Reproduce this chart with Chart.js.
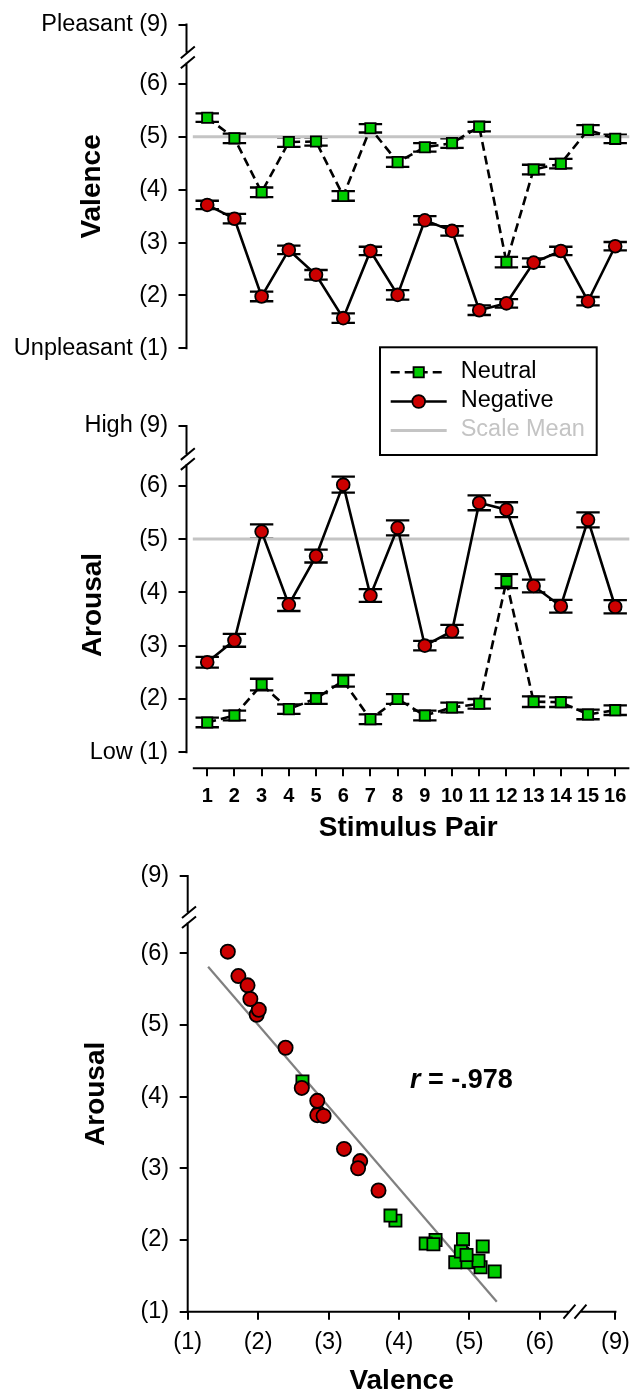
<!DOCTYPE html>
<html>
<head>
<meta charset="utf-8">
<title>Valence and arousal ratings by stimulus pair</title>
<script src="https://cdn.jsdelivr.net/npm/chart.js@4.4.1/dist/chart.umd.min.js"></script>
<style>
  html, body { margin: 0; padding: 0; background: #fff; width: 639px; height: 1393px; overflow: hidden; }
  canvas { position: absolute; left: 0; }
</style>
</head>
<body>
<canvas id="valenceChart" width="639" height="380" style="top:0px"></canvas>
<canvas id="arousalChart" width="639" height="520" style="top:340px"></canvas>
<canvas id="scatterChart" width="639" height="570" style="top:840px"></canvas>
<script>
// ---------------- data ----------------
const PAIRS = [1, 2, 3, 4, 5, 6, 7, 8, 9, 10, 11, 12, 13, 14, 15, 16];

// Mean valence ratings (1 = unpleasant, 9 = pleasant) and their SEM
const VALENCE_NEUTRAL      = [5.36, 4.97, 3.95, 4.90, 4.91, 3.88, 5.16, 4.52, 4.80, 4.88, 5.19, 2.63, 4.38, 4.49, 5.13, 4.96];
const VALENCE_NEUTRAL_SEM  = [0.08, 0.09, 0.09, 0.09, 0.08, 0.09, 0.08, 0.09, 0.08, 0.09, 0.09, 0.10, 0.09, 0.09, 0.09, 0.08];
const VALENCE_NEGATIVE     = [3.71, 3.45, 1.98, 2.86, 2.39, 1.57, 2.84, 2.01, 3.42, 3.22, 1.72, 1.85, 2.62, 2.84, 1.89, 2.93];
const VALENCE_NEGATIVE_SEM = [0.08, 0.09, 0.09, 0.08, 0.09, 0.09, 0.08, 0.09, 0.08, 0.09, 0.09, 0.08, 0.08, 0.08, 0.08, 0.08];

// Mean arousal ratings (1 = low, 9 = high) and their SEM
const AROUSAL_NEUTRAL      = [1.56, 1.69, 2.27, 1.81, 2.01, 2.34, 1.62, 2.00, 1.69, 1.84, 1.91, 4.21, 1.95, 1.94, 1.71, 1.79];
const AROUSAL_NEUTRAL_SEM  = [0.09, 0.09, 0.11, 0.09, 0.10, 0.11, 0.09, 0.09, 0.09, 0.09, 0.09, 0.13, 0.10, 0.09, 0.09, 0.09];
const AROUSAL_NEGATIVE     = [2.69, 3.10, 5.14, 3.77, 4.68, 6.02, 3.94, 5.21, 3.00, 3.27, 5.68, 5.55, 4.12, 3.74, 5.36, 3.73];
const AROUSAL_NEGATIVE_SEM = [0.10, 0.12, 0.135, 0.12, 0.12, 0.15, 0.12, 0.14, 0.09, 0.12, 0.14, 0.14, 0.12, 0.12, 0.14, 0.125];

const SCALE_MEAN = 5;

// Least-squares fit of arousal on valence, drawn between its two end points
const FIT_VALENCE = [1.29, 5.39];
const FIT_AROUSAL = [5.81, 1.14];
const CORRELATION = '-.978';

// Tick labels of the broken rating axes (the last one sits above the break)
const VALENCE_TICK_LABELS = ['Unpleasant (1)', '(2)', '(3)', '(4)', '(5)', '(6)', 'Pleasant (9)'];
const AROUSAL_TICK_LABELS = ['Low (1)', '(2)', '(3)', '(4)', '(5)', '(6)', 'High (9)'];
const SCATTER_TICK_LABELS = ['(1)', '(2)', '(3)', '(4)', '(5)', '(6)', '(9)'];
const LEGEND_LABELS = ['Neutral', 'Negative', 'Scale Mean'];

// ---------------- axis geometry ----------------
const RATING_TICKS = [1, 2, 3, 4, 5, 6];
const AXIS_BREAK = 6.5;            // the scale is cut between 6 and 9
const LINE_AXIS_TOP = 7.12;        // where "(9)" sits on the line panels
const SCATTER_AXIS_TOP = 7.075;    // where "(9)" sits on the scatter panel
const PAIR_MIN = 0.238, PAIR_MAX = 16.54;      // horizontal extent of the pair panels
const PAIR_AXIS_FROM = 0.47, PAIR_AXIS_TO = 16.52;

// ---------------- styles ----------------
const FONT_FAMILY = "'Liberation Sans', Arial, Helvetica, sans-serif";
const BLACK = '#000000';
const GREEN = '#00cc00';
const RED = '#cc0000';
const MEAN_GRAY = '#c4c4c4';
const FIT_GRAY = '#808080';
const TICK_FONT = { family: FONT_FAMILY, size: 23.5 };
const TITLE_FONT = { family: FONT_FAMILY, size: 28, weight: 'bold' };
const PAIR_FONT = { family: FONT_FAMILY, size: 20, weight: 'bold' };
const CAP_HALF = 11.7;
const DATA_LINE_WIDTH = 2.6;
const MARKER_BORDER = 1.8;

Chart.defaults.font.family = FONT_FAMILY;
Chart.defaults.color = BLACK;

// ---------------- plugins ----------------
// Vertical ±SEM whiskers with caps, drawn underneath the markers
const errorBars = {
  id: 'errorBars',
  beforeDatasetsDraw(chart) {
    const { ctx } = chart;
    const xs = chart.scales.x, ys = chart.scales.y;
    ctx.save();
    ctx.strokeStyle = BLACK;
    ctx.lineWidth = 2.3;
    chart.data.datasets.forEach(ds => {
      if (!ds.errors) return;
      ds.data.forEach((p, i) => {
        const px = xs.getPixelForValue(p.x);
        const top = ys.getPixelForValue(p.y + ds.errors[i]);
        const bot = ys.getPixelForValue(p.y - ds.errors[i]);
        ctx.beginPath();
        ctx.moveTo(px, top); ctx.lineTo(px, bot);
        ctx.moveTo(px - CAP_HALF, top); ctx.lineTo(px + CAP_HALF, top);
        ctx.moveTo(px - CAP_HALF, bot); ctx.lineTo(px + CAP_HALF, bot);
        ctx.stroke();
      });
    });
    ctx.restore();
  }
};

// Axis lines with a "//" break mark
const brokenAxes = {
  id: 'brokenAxes',
  afterDraw(chart, args, opts) {
    const { ctx, chartArea } = chart;
    const GAP = 5;
    ctx.save();
    ctx.strokeStyle = BLACK;
    ctx.lineWidth = 2;
    ctx.lineCap = 'butt';
    if (opts.y) {
      const s = chart.scales.y;
      const ax = chartArea.left;
      const y0 = s.getPixelForValue(opts.y.from);
      const y1 = s.getPixelForValue(opts.y.to);
      const yb = s.getPixelForValue(opts.y.breakAt);
      ctx.beginPath();
      ctx.moveTo(ax, y0 + 1); ctx.lineTo(ax, yb + GAP);
      ctx.moveTo(ax, yb - GAP); ctx.lineTo(ax, y1 - 1);
      [-5, 5].forEach(d => {
        ctx.moveTo(ax + 1.3 - 7, yb + d + 5.8);
        ctx.lineTo(ax + 1.3 + 7, yb + d - 5.8);
      });
      ctx.stroke();
    }
    if (opts.x) {
      const s = chart.scales.x;
      const ay = chartArea.bottom;
      const x0 = s.getPixelForValue(opts.x.from);
      const x1 = s.getPixelForValue(opts.x.to);
      ctx.beginPath();
      if (opts.x.breakAt != null) {
        const xb = s.getPixelForValue(opts.x.breakAt);
        ctx.moveTo(x0 - 1, ay); ctx.lineTo(xb - GAP, ay);
        ctx.moveTo(xb + GAP, ay); ctx.lineTo(x1 + 1, ay);
        [-5.5, 5.5].forEach(d => {
          ctx.moveTo(xb + d - 6, ay + 7);
          ctx.lineTo(xb + d + 6, ay - 7);
        });
      } else {
        ctx.moveTo(x0, ay); ctx.lineTo(x1, ay);
      }
      ctx.stroke();
    }
    ctx.restore();
  }
};

// Free-standing text made of differently styled runs
const textRuns = {
  id: 'textRuns',
  afterDraw(chart, args, opts) {
    const { ctx } = chart;
    (opts.items || []).forEach(item => {
      ctx.save();
      ctx.translate(item.x, item.y);
      if (item.rotate) ctx.rotate(item.rotate);
      ctx.fillStyle = item.color || BLACK;
      ctx.textBaseline = item.baseline || 'middle';
      ctx.textAlign = 'left';
      let total = 0;
      item.runs.forEach(r => { ctx.font = r.font; total += ctx.measureText(r.text).width; });
      let x = item.align === 'left' ? 0 : -total / 2;
      item.runs.forEach(r => {
        ctx.font = r.font;
        ctx.fillText(r.text, x, 0);
        x += ctx.measureText(r.text).width;
      });
      ctx.restore();
    });
  }
};

// Framed legend built from the dataset styles
const framedLegend = {
  id: 'framedLegend',
  afterDraw(chart, args, opts) {
    const { ctx } = chart;
    const box = opts.box;
    ctx.save();
    ctx.strokeStyle = BLACK;
    ctx.lineWidth = 2;
    ctx.strokeRect(box.left, box.top, box.width, box.height);
    opts.entries.forEach((entry, i) => {
      const ds = chart.data.datasets[entry.dataset];
      const y = opts.rows[i];
      ctx.save();
      ctx.strokeStyle = ds.borderColor;
      ctx.lineWidth = ds.borderWidth;
      ctx.setLineDash(ds.borderDash || []);
      ctx.beginPath();
      ctx.moveTo(opts.lineFrom, y);
      ctx.lineTo(opts.lineTo, y);
      ctx.stroke();
      ctx.restore();
      if (ds.pointRadius > 0) {
        ctx.save();
        ctx.fillStyle = ds.pointBackgroundColor;
        ctx.strokeStyle = ds.pointBorderColor;
        ctx.lineWidth = ds.pointBorderWidth;
        Chart.helpers.drawPoint(ctx, {
          pointStyle: ds.pointStyle, radius: ds.pointRadius,
          borderWidth: ds.pointBorderWidth, rotation: 0
        }, (opts.lineFrom + opts.lineTo) / 2, y);
        ctx.restore();
      }
      ctx.fillStyle = entry.color || BLACK;
      ctx.font = `${TICK_FONT.size}px ${FONT_FAMILY}`;
      ctx.textBaseline = 'middle';
      ctx.textAlign = 'left';
      ctx.fillText(entry.label, opts.textX, y - 1);
    });
    ctx.restore();
  }
};

// ---------------- helpers ----------------
const pairPoints = values => PAIRS.map((p, i) => ({ x: p, y: values[i] }));
const ratingPoints = (xv, yv) => xv.map((v, i) => ({ x: v, y: yv[i] }));

const tickGrid = { display: true, drawOnChartArea: false, drawTicks: true, tickLength: 8, color: BLACK, lineWidth: 2 };

function ratingAxis({ min, max, top, labels, width, title, titlePad }) {
  return {
    type: 'linear',
    min, max,
    afterBuildTicks: s => { s.ticks = RATING_TICKS.concat([top]).map(v => ({ value: v })); },
    afterFit: s => { s.width = width; },
    ticks: { autoSkip: false, padding: 10.5, font: TICK_FONT, color: BLACK, callback: (v, i) => labels[i] },
    grid: tickGrid,
    border: { display: false },
    title: title
      ? { display: true, text: title, font: TITLE_FONT, color: BLACK, padding: { top: titlePad, bottom: 0 } }
      : { display: false }
  };
}

function seriesDatasets(neutral, neutralSem, negative, negativeSem) {
  return [
    {
      label: LEGEND_LABELS[0], data: pairPoints(neutral), errors: neutralSem,
      borderColor: BLACK, borderWidth: DATA_LINE_WIDTH, borderDash: [9, 5], tension: 0,
      pointStyle: 'rect', pointRadius: 7.3, pointBackgroundColor: GREEN,
      pointBorderColor: BLACK, pointBorderWidth: MARKER_BORDER, order: 2
    },
    {
      label: LEGEND_LABELS[1], data: pairPoints(negative), errors: negativeSem,
      borderColor: BLACK, borderWidth: DATA_LINE_WIDTH, tension: 0,
      pointStyle: 'circle', pointRadius: 6.4, pointBackgroundColor: RED,
      pointBorderColor: BLACK, pointBorderWidth: MARKER_BORDER, order: 1
    },
    {
      label: LEGEND_LABELS[2],
      data: [{ x: PAIR_AXIS_FROM, y: SCALE_MEAN }, { x: PAIR_AXIS_TO, y: SCALE_MEAN }],
      borderColor: MEAN_GRAY, borderWidth: 3, pointRadius: 0, order: 10
    }
  ];
}

const commonOptions = {
  responsive: false,
  animation: false,
  devicePixelRatio: 1,
  events: []
};

// ---------------- valence by pair ----------------
new Chart(document.getElementById('valenceChart'), {
  type: 'line',
  data: { datasets: seriesDatasets(VALENCE_NEUTRAL, VALENCE_NEUTRAL_SEM, VALENCE_NEGATIVE, VALENCE_NEGATIVE_SEM) },
  options: {
    ...commonOptions,
    layout: { padding: { top: 21.7, right: 7.5, bottom: 31.7, left: 0 } },
    scales: {
      x: { type: 'linear', min: PAIR_MIN, max: PAIR_MAX, display: false },
      y: ratingAxis({ min: 1, max: LINE_AXIS_TOP, top: LINE_AXIS_TOP, labels: VALENCE_TICK_LABELS,
                      width: 186.5, title: 'Valence', titlePad: 75.2 })
    },
    plugins: {
      legend: { display: false },
      tooltip: { enabled: false },
      brokenAxes: { y: { from: 1, to: LINE_AXIS_TOP, breakAt: AXIS_BREAK } }
    }
  },
  plugins: [errorBars, brokenAxes]
});

// ---------------- arousal by pair ----------------
new Chart(document.getElementById('arousalChart'), {
  type: 'line',
  data: { datasets: seriesDatasets(AROUSAL_NEUTRAL, AROUSAL_NEUTRAL_SEM, AROUSAL_NEGATIVE, AROUSAL_NEGATIVE_SEM) },
  options: {
    ...commonOptions,
    layout: { padding: { top: 86, right: 7.5, bottom: 0, left: 0 } },
    scales: {
      x: {
        type: 'linear', min: PAIR_MIN, max: PAIR_MAX,
        afterBuildTicks: s => { s.ticks = PAIRS.map(v => ({ value: v })); },
        afterFit: s => { s.height = 91.7; },
        ticks: { autoSkip: false, maxRotation: 0, padding: 7.7, font: PAIR_FONT, color: BLACK,
                 callback: v => String(v) },
        grid: tickGrid,
        border: { display: false },
        title: { display: true, text: 'Stimulus Pair', font: TITLE_FONT, color: BLACK,
                 padding: { top: 0, bottom: 14.9 } }
      },
      y: ratingAxis({ min: 0.70, max: LINE_AXIS_TOP, top: LINE_AXIS_TOP, labels: AROUSAL_TICK_LABELS,
                      width: 186.5, title: null })
    },
    plugins: {
      legend: { display: false },
      tooltip: { enabled: false },
      brokenAxes: {
        y: { from: 1, to: LINE_AXIS_TOP, breakAt: AXIS_BREAK },
        x: { from: PAIR_AXIS_FROM, to: PAIR_AXIS_TO }
      },
      textRuns: {
        items: [{ x: 93.6, y: 265, rotate: -Math.PI / 2,
                  runs: [{ text: 'Arousal', font: `bold ${TITLE_FONT.size}px ${FONT_FAMILY}` }] }]
      },
      framedLegend: {
        box: { left: 380, top: 7.3, width: 216.7, height: 107.7 },
        rows: [32.3, 61.5, 90.5],
        lineFrom: 390.7, lineTo: 446.7, textX: 460.7,
        entries: [
          { dataset: 0, label: LEGEND_LABELS[0] },
          { dataset: 1, label: LEGEND_LABELS[1] },
          { dataset: 2, label: LEGEND_LABELS[2], color: MEAN_GRAY }
        ]
      }
    }
  },
  plugins: [errorBars, brokenAxes, textRuns, framedLegend]
});

// ---------------- arousal vs valence ----------------
new Chart(document.getElementById('scatterChart'), {
  type: 'scatter',
  data: {
    datasets: [
      {
        label: 'Fit', data: ratingPoints(FIT_VALENCE, FIT_AROUSAL), showLine: true,
        borderColor: FIT_GRAY, borderWidth: 2.2, pointRadius: 0, order: 3
      },
      {
        label: LEGEND_LABELS[0], data: ratingPoints(VALENCE_NEUTRAL, AROUSAL_NEUTRAL),
        pointStyle: 'rect', pointRadius: 8.6, pointBackgroundColor: GREEN,
        pointBorderColor: BLACK, pointBorderWidth: MARKER_BORDER, order: 2
      },
      {
        label: LEGEND_LABELS[1], data: ratingPoints(VALENCE_NEGATIVE, AROUSAL_NEGATIVE),
        pointStyle: 'circle', pointRadius: 7.1, pointBackgroundColor: RED,
        pointBorderColor: BLACK, pointBorderWidth: MARKER_BORDER, order: 1
      }
    ]
  },
  options: {
    ...commonOptions,
    layout: { padding: { top: 36, right: 16.3, bottom: 0, left: 0 } },
    scales: {
      x: {
        type: 'linear', min: 1, max: SCATTER_AXIS_TOP,
        afterBuildTicks: s => { s.ticks = RATING_TICKS.concat([SCATTER_AXIS_TOP]).map(v => ({ value: v })); },
        afterFit: s => { s.height = 98.3; },
        ticks: { autoSkip: false, maxRotation: 0, padding: 9.2, font: TICK_FONT, color: BLACK,
                 callback: (v, i) => SCATTER_TICK_LABELS[i] },
        grid: tickGrid,
        border: { display: false },
        title: { display: true, text: 'Valence', font: TITLE_FONT, color: BLACK,
                 padding: { top: 0, bottom: 11.9 } }
      },
      y: ratingAxis({ min: 1, max: SCATTER_AXIS_TOP, top: SCATTER_AXIS_TOP, labels: SCATTER_TICK_LABELS,
                      width: 187.7, title: 'Arousal', titlePad: 79.5 })
    },
    plugins: {
      legend: { display: false },
      tooltip: { enabled: false },
      brokenAxes: {
        y: { from: 1, to: SCATTER_AXIS_TOP, breakAt: AXIS_BREAK },
        x: { from: 1, to: SCATTER_AXIS_TOP, breakAt: AXIS_BREAK }
      },
      textRuns: {
        items: [{
          x: 410, y: 248, align: 'left', baseline: 'alphabetic',
          runs: [
            { text: 'r', font: `italic bold 27px ${FONT_FAMILY}` },
            { text: ' = ' + CORRELATION, font: `bold 27px ${FONT_FAMILY}` }
          ]
        }]
      }
    }
  },
  plugins: [brokenAxes, textRuns]
});
</script>
</body>
</html>
